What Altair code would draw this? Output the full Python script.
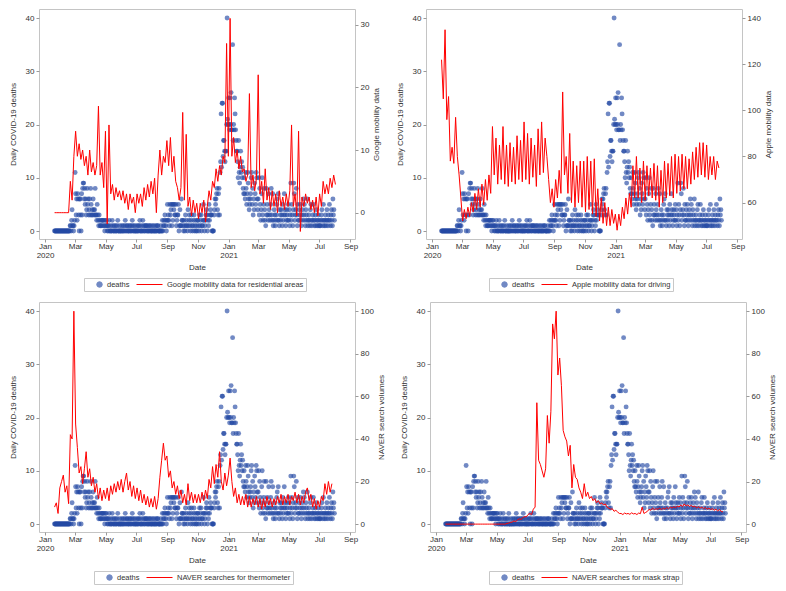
import altair as alt
import pandas as pd

# ---------------- daily COVID-19 deaths ----------------
deaths_2020_01 = [0,0,0,0,0,0,0,0,0,0,0,0]  # from Jan 20
deaths_2020_02 = [0,0,0,0,0,0,0,0,0,0,0,0,0,0,0,0,0,0,0,1,1,0,2,4,1,1,0,1,2]
deaths_2020_03 = [11,7,3,6,2,7,6,3,0,6,6,3,0,7,3,8,9,9,6,8,5,6,3,4,8,5,6,3,4,6,3]
deaths_2020_04 = [8,5,3,4,3,6,4,3,4,8,3,3,2,5,3,2,1,3,2,1,1,2,1,2,2,1,2,1,0,2]
deaths_2020_05 = [1,2,1,0,1,0,1,2,0,0,1,0,0,2,1,0,0,1,0,0,1,0,0,1,2,0,0,0,1,0,0]
deaths_2020_06 = [0,1,0,0,1,0,0,1,2,0,0,1,1,0,0,0,1,0,1,0,0,1,2,0,1,0,0,1,0,0]
deaths_2020_07 = [0,1,0,0,1,0,1,2,0,0,1,0,0,2,1,0,0,1,0,1,1,0,0,1,0,0,1,0,1,0,0]
deaths_2020_08 = [0,1,0,0,1,0,0,0,1,0,0,1,1,0,0,0,0,0,1,0,0,2,0,1,2,1,3,2,1,0,2]
deaths_2020_09 = [5,2,3,2,1,5,3,4,5,1,5,2,5,4,5,3,3,5,1,2,3,3,5,0,1,4,1,1,6,2]
deaths_2020_10 = [2,1,0,2,1,0,3,1,2,1,0,4,1,2,3,1,0,2,3,1,0,1,2,3,0,1,2,0,1,0,2]
deaths_2020_11 = [2,1,0,3,1,2,3,0,1,1,2,5,2,0,1,2,3,4,3,0,2,1,5,2,3,4,3,3,0,0]
deaths_2020_12 = [0,0,3,4,6,5,6,7,8,4,3,7,8,3,11,13,22,12,24,24,14,17,17,15,13,15,15,20,40,21,20]
deaths_2021_01 = [25,20,19,25,20,26,19,19,35,17,20,19,25,22,19,17,15,15,13,10,17,11,9,12,15,11,13,10,12,8,7]
deaths_2021_02 = [10,7,6,11,8,5,7,11,9,6,4,5,6,7,10,11,5,8,3,6,4,9,7,5,11,10,6,4]
deaths_2021_03 = [6,10,3,8,5,2,4,7,10,3,2,5,8,4,2,1,8,3,5,3,2,7,4,3,2,5,8,3,2,7,1]
deaths_2021_04 = [2,4,3,1,2,3,5,6,2,7,2,1,4,3,2,4,3,1,5,2,3,7,4,3,1,2,4,3,2,5]
deaths_2021_05 = [2,4,1,3,9,2,5,3,1,4,9,7,2,3,4,8,3,1,5,2,2,4,3,5,2,1,3,4,2,6,3]
deaths_2021_06 = [5,2,1,4,3,2,6,1,2,3,2,1,4,5,2,1,2,3,5,2,1,2,3,1,4,2,1,2,3,1]
deaths_2021_07 = [2,1,1,2,3,4,2,1,5,2,1,2,3,1,2,4,2,1,3,2,5,2,1,3,4,2,1,6,3,4,2]

death_months = [
    ("2020-01-20", deaths_2020_01), ("2020-02-01", deaths_2020_02), ("2020-03-01", deaths_2020_03),
    ("2020-04-01", deaths_2020_04), ("2020-05-01", deaths_2020_05), ("2020-06-01", deaths_2020_06),
    ("2020-07-01", deaths_2020_07), ("2020-08-01", deaths_2020_08), ("2020-09-01", deaths_2020_09),
    ("2020-10-01", deaths_2020_10), ("2020-11-01", deaths_2020_11), ("2020-12-01", deaths_2020_12),
    ("2021-01-01", deaths_2021_01), ("2021-02-01", deaths_2021_02), ("2021-03-01", deaths_2021_03),
    ("2021-04-01", deaths_2021_04), ("2021-05-01", deaths_2021_05), ("2021-06-01", deaths_2021_06),
    ("2021-07-01", deaths_2021_07),
]

# ---------------- red series, two readings per week from 2020-01-20 ----------------
google_residential = [
    0,0,0,0, 0,0,0,0,0,5,2,9,            # Jan-Feb 2020
    13,9,11,8.5,10,7.5,9,6,10,           # Mar
    6.5,8,6,7.5,17,6,8,4,13,             # Apr
    -1.8,14,3,4.5,2,4,2.5,3.5,           # May
    2,3.5,1.5,3,0.5,3,1.5,2.5,0,         # Jun
    3,1.5,3,1,4,2,4.5,2.5,5,             # Jul
    3,5.5,0,6,10,6,9,8,11.5,             # Aug
    7.5,12,6.5,9,5,4,2,4,                # Sep
    16,2,12.5,1,2.5,-0.5,2,0,1.5,        # Oct
    -1,1.5,0,2,-1.5,1,3.5,2,5,           # Nov
    4,7,5,7.5,6,9,8,27,9,                # Dec
    31,9,12,8,10,7,9,6.5,                # Jan 2021
    7,5,6,19,4,6,3.5,5.5,                # Feb
    22,3,5,1.5,7,2,4,0.5,3.5,            # Mar
    1,3,0,3.5,1,2.5,0.5,3,1,             # Apr
    3.5,14,1,3,-0.5,13,-3,2.5,1,         # May
    3,1.5,2.5,0.5,2,0,2.5,-0.5,          # Jun
    3,1,5,3,4.5,3,5.5,4,6,4.5,           # Jul
]
apple_driving = [
    122,105,135,96, 106,78,84,77,97,80,72,62,   # Jan-Feb 2020
    52,57,53,58,54,60,56,64,57,                 # Mar
    66,58,68,59,70,61,72,64,93,                 # Apr
    72,88,68,85,70,93,68,85,                    # May
    67,86,69,84,68,89,70,87,69,                 # Jun
    95,70,90,68,88,71,85,67,92,                 # Jul
    72,95,73,88,80,70,60,66,58,                 # Aug
    70,62,74,64,108,72,80,64,                   # Sep
    90,60,78,58,76,60,78,58,78,                 # Oct
    56,80,57,78,55,79,54,66,52,                 # Nov
    62,51,60,50,58,50,57,51,55,                 # Dec
    48,55,50,58,53,62,55,64,                    # Jan 2021
    58,76,62,80,62,75,60,78,                    # Feb
    61,76,63,75,62,77,61,76,58,                 # Mar
    74,60,78,62,77,63,80,62,81,                 # Apr
    64,80,65,81,66,80,66,79,68,                 # May
    82,70,84,71,86,72,86,71,                    # Jun
    85,70,80,72,80,70,78,75,                    # Jul
]
naver_thermometer = [
    8,10,5,17, 20,23,15,18,9.6,42,40,100,       # Jan-Feb 2020
    47,36,24,27,19,26,34,22,26,                 # Mar
    18,22,15,19,12,17,11,16,12,                 # Apr
    17,11,18,14,19,15,20,16,                    # May
    21,15,20,24,16,20,13,18,12,                 # Jun
    17,11,16,10,14,9,13,8,12,                   # Jul
    8,13,7,12,22,30,38,30,32,                   # Aug
    22,25,17,20,14,18,12,16,                    # Sep
    10,14,9,19,11,15,10,14,10,                  # Oct
    14,10,15,11,16,12,21,17,27,                 # Nov
    19,28,22,34,20,16,24,18,23,                 # Dec
    31,20,13,17,10,14,9,13,                     # Jan 2021
    9,14,8,13,8,12,9,13,                        # Feb
    8,12,7,12,8,13,9,12,8,                      # Mar
    12,9,13,10,14,9,13,10,14,                   # Apr
    9,13,11,15,10,14,9,13,10,                   # May
    15,17,11,14,8,12,7,11,                      # Jun
    8,13,11,19,14,20,15,19,                     # Jul
]
naver_mask_strap = [
    0,0,0,0, 0,0,0,0,0,0,0,0,                   # Jan-Feb 2020
    0,0,0,0,0,0,0,0,0,                          # Mar
    0,0,0,0,0,0,0,0,0,                          # Apr
    0,0,0,0,0,0.3,0.5,0.8,                      # May
    1,1.5,1.2,2,2.5,2.2,3,3.5,3.4,              # Jun
    4.5,5,4.5,7,8,57,30,28,25,                  # Jul
    22,26,51,38,53,94,87,100,70,                # Aug
    78,65,44,41,39,32,37,17,                    # Sep
    28,22,21,17,15,12,19,13,15,                 # Oct
    12,13,11,12,10,11,9.5,10,9,                 # Nov
    9.5,8,7.5,7,7.2,6,6.5,5.7,5,                # Dec
    5,4.5,5.2,4.8,5,4.6,5.3,4.8,                # Jan 2021
    5,4.5,5.2,4.9,8,5,5.5,6,                    # Feb
    7,6.5,7.5,6.8,7.2,7,7.5,6.8,7.5,            # Mar
    7,7.8,7.2,8,7.5,8.2,7.6,8.5,8,              # Apr
    9,8.2,9.5,8.5,9,8.3,8.8,8,8.5,              # May
    7.6,8.2,7.5,8,7.2,7.8,7,7.5,                # Jun
    6.8,7.3,6.5,7,6.2,6.8,6,5.7,                # Jul
]

BLUE = "#254aa5"
RED = "#ff0000"
FONT = "Liberation Sans"
H = 230
W = 316

death_frames = []
for start, vals in death_months:
    death_frames.append(pd.DataFrame({"date": pd.date_range(start, periods=len(vals), freq="D"),
                                      "deaths": vals}))
deaths_df = pd.concat(death_frames, ignore_index=True)
deaths_df["series"] = "deaths"


def line_frame(vals, label):
    return pd.DataFrame({"date": pd.date_range("2020-01-20", periods=len(vals), freq="84h"),
                         "value": vals, "series": label})


x_scale = alt.Scale(domain=[alt.DateTime(year=2019, month=12, date=20),
                            alt.DateTime(year=2021, month=9, date=10)])
tick_dates = [alt.DateTime(year=y, month=m, date=1) for (y, m) in
              [(2020, 1), (2020, 3), (2020, 5), (2020, 7), (2020, 9), (2020, 11),
               (2021, 1), (2021, 3), (2021, 5), (2021, 7), (2021, 9)]]
x_axis = alt.Axis(title="Date", values=tick_dates, tickSize=3, labelPadding=0,
                  labelExpr="month(datum.value) == 0 ? [timeFormat(datum.value, '%b'), timeFormat(datum.value, '%Y')] : timeFormat(datum.value, '%b')",
                  labelFlush=False, labelOverlap=False, labelAlign="center", labelBaseline="top",
                  labelLineHeight=9, titlePadding=4)

is_d = "datum.value === 'deaths'"


def panel(vals, label, ydom, yvals, ytitle, lx):
    ldf = line_frame(vals, label)
    legend = alt.Legend(
        title=None, orient="none", legendX=lx, legendY=H + 39, direction="horizontal",
        strokeColor="#c8c8c8", padding=2, clipHeight=9,
        symbolType=alt.ExprRef(expr=f"{is_d} ? 'circle' : 'stroke'"),
        symbolSize=alt.ExprRef(expr=f"{is_d} ? 30 : 676"),
        symbolStrokeColor=alt.ExprRef(expr=f"{is_d} ? 'transparent' : '{RED}'"),
        symbolOpacity=alt.ExprRef(expr=f"{is_d} ? 0.65 : 1"),
        symbolStrokeWidth=1,
        labelOffset=alt.ExprRef(expr=f"{is_d} ? -6 : 4"),
        labelFontSize=7.5, labelLimit=400, columnPadding=6,
    )
    pts = alt.Chart(deaths_df).mark_circle(size=24, opacity=0.65).encode(
        x=alt.X("date:T", scale=x_scale, axis=x_axis),
        y=alt.Y("deaths:Q", scale=alt.Scale(domain=[-1.5, 41.7], nice=False, zero=False),
                axis=alt.Axis(title="Daily COVID-19 deaths", values=[0, 10, 20, 30, 40],
                              tickSize=3, labelPadding=2, titlePadding=8)),
        color=alt.Color("series:N", scale=alt.Scale(domain=["deaths", label], range=[BLUE, RED]),
                        legend=legend),
    )
    ln = alt.Chart(ldf).mark_line(strokeWidth=1).encode(
        x=alt.X("date:T", scale=x_scale, axis=x_axis),
        y=alt.Y("value:Q", scale=alt.Scale(domain=ydom, nice=False, zero=False),
                axis=alt.Axis(title=ytitle, orient="right", values=yvals, titleAngle=270,
                              tickSize=3, labelPadding=2, titlePadding=12)),
        color=alt.Color("series:N"),
    )
    return alt.layer(pts, ln).resolve_scale(y="independent").properties(width=W, height=H)


p1 = panel(google_residential, "Google mobility data for residential areas",
           [-4.2, 32.5], [0, 10, 20, 30], "Google mobility data", 45)
p2 = panel(apple_driving, "Apple mobility data for driving",
           [44.2, 144.0], [60, 80, 100, 120, 140], "Apple mobility data", 63)
p3 = panel(naver_thermometer, "NAVER searches for thermometer",
           [-3.7, 104.3], [0, 20, 40, 60, 80, 100], "NAVER search volumes", 55)
p4 = panel(naver_mask_strap, "NAVER searches for mask strap",
           [-3.7, 104.3], [0, 20, 40, 60, 80, 100], "NAVER search volumes", 59)

res = dict(x="independent", y="independent", color="independent")
row1 = alt.hconcat(p1, p2, spacing=13).resolve_scale(**res)
row2 = alt.hconcat(p3, p4, spacing=13).resolve_scale(**res)
chart = alt.vconcat(row1, row2, spacing=9).resolve_scale(**res).properties(padding=0).configure_view(
    stroke="#c4c4c4", strokeWidth=1
).configure_axis(
    labelFont=FONT, titleFont=FONT, labelFontSize=8, titleFontSize=8, titleFontWeight="normal",
    labelColor="#333333", titleColor="#333333", tickColor="#9a9a9a", domain=False, grid=False
).configure_legend(
    labelFont=FONT, labelColor="#333333"
)

chart.save("out.html", embed_options={"renderer": "svg", "actions": False})
